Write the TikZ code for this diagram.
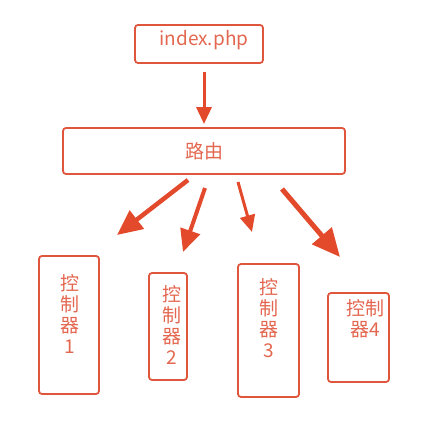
\documentclass[tikz,border=0pt]{standalone}
\usepackage{fontspec}
\setmainfont{Noto Sans CJK SC}
\usetikzlibrary{arrows.meta}
\definecolor{boxred}{RGB}{224,86,60}
\definecolor{arrred}{RGB}{226,74,43}

\begin{document}
\begin{tikzpicture}[x=1pt, y=-1pt,
  every node/.style = {font=\fontsize{19}{21}\selectfont, text=boxred!90!white},
  box/.style = {shape=rectangle, rounded corners=3pt, draw=boxred,
    line width=1.8pt, inner sep=0pt},
  lbl/.style = {align=center, inner sep=0pt},
  bigarr/.style = {draw=arrred, line width=#1,
    -{Triangle[length=5.6*#1, width=5*#1]}}]
  \useasboundingbox (0,0) rectangle (440,425);

  % entry and router
  \node[box, minimum width=128, minimum height=38] (entry) at (199,44) {};
  \node[lbl] (entrytxt) at (204,40) {index.php};
  \node[box, minimum width=282, minimum height=46] (route) at (204,151) {路由};

  % controllers
  \node[box, minimum width=60, minimum height=138] (c1) at (69,325) {};
  \node[box, minimum width=38, minimum height=107] (c2) at (168,326.5) {};
  \node[box, minimum width=61, minimum height=133] (c3) at (268.5,330.5) {};
  \node[box, minimum width=61, minimum height=89] (c4) at (358.5,337.5) {};
  \node[lbl] (c1txt) at (70,314) {控\\制\\器\\1};
  \node[lbl] (c2txt) at (172,325) {控\\制\\器\\2};
  \node[lbl] (c3txt) at (269,318) {控\\制\\器\\3};
  \node[lbl] (c4txt) at (365,319) {控制\\器4};

  % arrow ends
  \coordinate (e0) at (204,72);   \coordinate (e0t) at (204,124);
  \coordinate (a1) at (188,180);  \coordinate (a1t) at (117,235);
  \coordinate (a2) at (205,188);  \coordinate (a2t) at (183,252);
  \coordinate (a3) at (238,182);  \coordinate (a3t) at (252,232);
  \coordinate (a4) at (282,189);  \coordinate (a4t) at (340,257);

  \draw[bigarr=3pt] (e0) -- (e0t);
  \draw[bigarr=4.5pt] (a1) -- (a1t);
  \draw[bigarr=4pt] (a2) -- (a2t);
  \draw[bigarr=3pt] (a3) -- (a3t);
  \draw[bigarr=5pt] (a4) -- (a4t);
\end{tikzpicture}
\end{document}
